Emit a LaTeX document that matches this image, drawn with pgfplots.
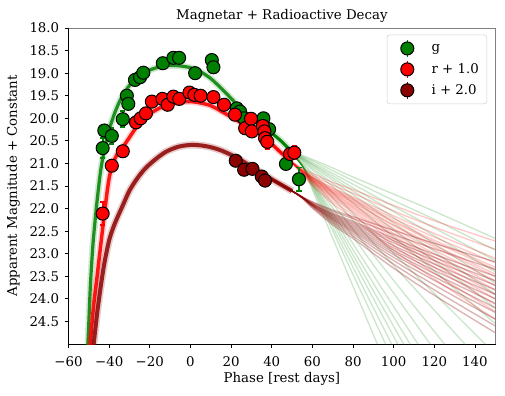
\documentclass[border=0pt]{standalone}
\usepackage{fontspec}
\setmainfont{DejaVu Serif}
\usepackage{pgfplots}
\usepackage{pgfplotstable}
\pgfplotsset{compat=1.18}
\definecolor{gcol}{RGB}{0,128,0}
\definecolor{rcol}{RGB}{255,0,0}
\definecolor{dcol}{RGB}{139,0,0}
\pgfplotsset{errleg/.style={legend image code/.code={%
  \draw[#1, line width=1.2pt] (0pt,-6.5pt) -- (0pt,6.5pt);
  \draw[##1] plot coordinates {(0pt,0pt)};
  \path (-11pt,0pt) (16pt,0pt);}}}

% ---------- observed photometry ----------
\pgfplotstableread{
x y e
-43.2 20.66 0.22
-42.4 20.27 0.12
-38.7 20.39 0.18
-33.3 20.02 0.18
-31.3 19.50 0.10
-30.6 19.68 0.12
-27.3 19.15 0.08
-24.8 19.09 0.08
-23.2 18.99 0.06
-13.6 18.78 0.06
-8.4 18.66 0.05
-5.6 18.66 0.05
2.3 19.00 0.06
10.5 18.71 0.06
11.3 18.87 0.06
22.8 19.78 0.07
24.4 19.85 0.07
26.4 20.00 0.08
35.9 20.00 0.10
38.7 20.24 0.10
47.0 21.01 0.12
53.4 21.35 0.26
}\gdata
\pgfplotstableread{
x y e
-43.2 22.11 0.25
-38.7 21.05 0.08
-33.3 20.73 0.06
-26.8 20.09 0.06
-24.5 20.00 0.05
-21.9 19.89 0.05
-19.0 19.63 0.05
-13.8 19.57 0.05
-11.2 19.70 0.05
-8.4 19.52 0.05
-5.5 19.57 0.05
-0.5 19.43 0.05
1.9 19.48 0.05
5.0 19.50 0.05
11.3 19.53 0.05
16.5 19.70 0.05
21.9 19.92 0.05
26.9 20.22 0.10
29.8 20.01 0.06
30.2 20.29 0.06
35.6 20.17 0.08
36.4 20.29 0.08
36.7 20.44 0.10
37.8 20.52 0.16
49.0 20.79 0.12
51.1 20.76 0.14
}\rdata
\pgfplotstableread{
x y e
22.3 20.94 0.05
26.4 21.14 0.05
30.5 21.12 0.05
35.1 21.29 0.06
36.7 21.38 0.06
}\ddata

% ---------- model curves: common early part ----------
\pgfplotstableread{
x y
-51 25.5
-50.5 25.0
-50 24.5
-49.5 23.95
-49 23.5
-48 22.8
-47 22.3
-46 21.85
-45 21.45
-44 21.1
-42 20.62
-40 20.25
-37 19.85
-34 19.55
-30 19.27
-25 19.05
-20 18.93
-15 18.86
-10 18.83
-5 18.84
0 18.88
5 18.97
10 19.12
15 19.33
20 19.56
25 19.80
30 20.02
35 20.18
40 20.33
45 20.52
50 20.75
}\gcore
\pgfplotstableread{
x y
-50 25.55
-49.3 25.0
-48.5 24.55
-47.5 24.08
-46 23.52
-45 23.13
-44 22.75
-43 22.36
-42 21.99
-41 21.62
-40 21.32
-39 21.12
-38 20.98
-36 20.79
-33 20.62
-30 20.42
-27 20.22
-25 20.10
-20 19.90
-15 19.77
-10 19.69
-5 19.64
0 19.63
5 19.66
10 19.72
15 19.84
20 19.97
25 20.10
30 20.23
35 20.38
40 20.57
45 20.78
50 20.98
}\rcore
\pgfplotstableread{
x y
-48.5 25.4
-48 25.15
-47 24.75
-46 24.35
-45 24.0
-44 23.68
-43 23.38
-42 23.12
-40 22.70
-38 22.42
-36 22.20
-33 21.90
-30 21.60
-26 21.32
-22 21.10
-17 20.90
-12 20.74
-6 20.63
0 20.59
5 20.60
10 20.64
15 20.71
20 20.81
25 20.93
30 21.07
35 21.21
40 21.35
45 21.48
50 21.61
}\dcore

% ---------- model curves: late-time spread ----------
\pgfplotstableread{
x a b c d e f g h i j k l m n o p q r s
40 20.33 20.33 20.33 20.33 20.33 20.33 20.33 20.33 20.33 20.33 20.33 20.33 20.33 20.33 20.33 20.33 20.33 20.33 20.33
45 20.52 20.52 20.52 20.52 20.52 20.52 20.52 20.52 20.52 20.52 20.52 20.52 20.52 20.52 20.52 20.52 20.52 20.52 20.52
50 20.72 20.73 20.74 20.74 20.74 20.74 20.75 20.75 20.76 20.76 20.76 20.78 20.78 20.78 20.78 20.78 20.78 20.78 20.78
55 20.82 20.84 20.86 20.87 20.89 20.90 20.92 20.94 21.04 21.01 20.98 21.05 21.05 21.05 21.05 21.05 21.05 21.05 21.05
60 20.91 20.94 20.98 21.01 21.03 21.06 21.10 21.14 21.33 21.26 21.21 21.58 21.53 21.50 21.47 21.45 21.42 21.40 21.36
70 21.10 21.16 21.22 21.27 21.32 21.37 21.44 21.51 21.89 21.76 21.65 22.65 22.49 22.40 22.31 22.24 22.17 22.09 21.99
80 21.30 21.38 21.46 21.54 21.61 21.69 21.78 21.88 22.46 22.26 22.10 23.72 23.46 23.30 23.15 23.03 22.91 22.78 22.62
100 21.68 21.82 21.95 22.07 22.20 22.32 22.47 22.63 23.59 23.26 22.99 25.86 25.38 25.09 24.83 24.61 24.40 24.17 23.87
120 22.06 22.24 22.43 22.60 22.78 22.95 23.16 23.38 24.72 24.25 23.88 28.00 27.30 26.89 26.51 26.19 25.89 25.56 25.13
150 22.66 22.92 23.15 23.40 23.65 23.90 24.20 24.55 26.40 25.75 25.22 31.20 30.20 29.58 29.03 28.56 28.13 27.64 27.01
}\glate
\pgfplotstableread{
x a b c d e f g h i j k l m n o p
40 20.57 20.57 20.57 20.57 20.57 20.57 20.57 20.57 20.57 20.57 20.57 20.57 20.57 20.57 20.57 20.57
45 20.78 20.78 20.78 20.78 20.78 20.78 20.78 20.78 20.78 20.78 20.78 20.78 20.78 20.78 20.78 20.78
50 20.96 20.97 20.98 20.98 20.98 20.98 20.98 20.98 20.98 20.98 20.98 20.98 20.98 20.99 20.99 21.00
55 21.11 21.13 21.15 21.15 21.16 21.16 21.17 21.17 21.18 21.18 21.19 21.19 21.20 21.21 21.22 21.24
60 21.22 21.26 21.30 21.30 21.32 21.32 21.34 21.34 21.36 21.37 21.39 21.39 21.41 21.43 21.46 21.49
70 21.42 21.48 21.54 21.56 21.59 21.60 21.63 21.64 21.66 21.68 21.71 21.73 21.76 21.79 21.84 21.89
80 21.58 21.66 21.74 21.77 21.80 21.82 21.85 21.87 21.91 21.94 21.97 22.00 22.04 22.08 22.14 22.21
100 21.93 22.05 22.16 22.22 22.27 22.30 22.36 22.38 22.44 22.49 22.55 22.60 22.66 22.72 22.82 22.92
120 22.27 22.41 22.55 22.63 22.70 22.74 22.81 22.85 22.92 23.00 23.07 23.14 23.22 23.30 23.43 23.56
150 22.72 22.90 23.10 23.20 23.30 23.35 23.45 23.50 23.60 23.70 23.80 23.90 24.00 24.12 24.28 24.45
}\rlate
\pgfplotstableread{
x a b c d e f g h i j k l m n
40 21.35 21.35 21.35 21.35 21.35 21.35 21.35 21.35 21.35 21.35 21.35 21.35 21.35 21.35
45 21.48 21.48 21.48 21.48 21.48 21.48 21.48 21.48 21.48 21.48 21.48 21.48 21.48 21.48
50 21.61 21.61 21.61 21.61 21.61 21.61 21.61 21.61 21.61 21.61 21.61 21.61 21.61 21.61
55 21.74 21.74 21.75 21.75 21.75 21.75 21.75 21.75 21.75 21.75 21.76 21.76 21.76 21.77
60 21.85 21.86 21.88 21.89 21.90 21.90 21.91 21.92 21.93 21.93 21.94 21.95 21.97 21.99
70 22.03 22.06 22.10 22.12 22.14 22.16 22.18 22.20 22.22 22.24 22.26 22.29 22.32 22.36
80 22.18 22.22 22.28 22.31 22.34 22.37 22.40 22.43 22.46 22.49 22.52 22.56 22.61 22.66
100 22.48 22.57 22.66 22.71 22.76 22.82 22.87 22.92 22.97 23.02 23.08 23.15 23.23 23.32
120 22.77 22.89 23.01 23.08 23.15 23.23 23.30 23.37 23.44 23.51 23.59 23.69 23.80 23.92
150 23.18 23.35 23.50 23.60 23.70 23.80 23.90 24.00 24.10 24.20 24.30 24.45 24.60 24.75
}\dlate

\begin{document}
\begin{tikzpicture}
\begin{axis}[
  scale only axis, width=320pt, height=237pt,
  xmin=-60, xmax=150, ymin=18, ymax=25, y dir=reverse,
  xtick={-60,-40,-20,0,20,40,60,80,100,120,140},
  xticklabels={−60,−40,−20,0,20,40,60,80,100,120,140},
  ytick={18,18.5,19,19.5,20,20.5,21,21.5,22,22.5,23,23.5,24,24.5},
  yticklabels={18.0,18.5,19.0,19.5,20.0,20.5,21.0,21.5,22.0,22.5,23.0,23.5,24.0,24.5},
  tick align=outside, tick pos=left, major tick length=3pt,
  tick style={black, line width=0.6pt},
  axis line style={line width=0.6pt},
  xticklabel style={anchor=base, yshift=-13.5pt, inner sep=0pt},
  yticklabel style={anchor=east, xshift=-3.8pt, inner sep=0pt},
  title={Magnetar + Radioactive Decay},
  title style={at={(axis description cs:0.5,1)}, anchor=base, yshift=0.2pt, inner sep=0pt},
  xlabel={Phase [rest days]},
  xlabel style={at={(axis description cs:0.5,0)}, anchor=base, yshift=-29pt, inner sep=0pt},
  ylabel={Apparent Magnitude + Constant},
  ylabel style={at={(axis description cs:-0.1213,0.5)}, anchor=base, inner sep=0pt},
  legend cell align=left,
  legend style={at={(axis description cs:0.9808,0.9788)}, anchor=north east,
    draw=black!18, rounded corners=2pt, fill=white, inner xsep=4pt, inner ysep=3pt,
    row sep=1.5pt, /tikz/every even column/.append style={column sep=4pt}},
  after end axis/.code={
    \draw[gray, line width=0.7pt] (axis description cs:0,1) -- (axis description cs:1,1) -- (axis description cs:1,0);
  },
]
% late-time model spread
\pgfplotsinvokeforeach{a,b,c,d,e,f,g,h,i,j,k,l,m,n,o,p,q,r,s}{
  \addplot[gcol, opacity=0.2, line width=1pt, smooth, forget plot] table[x=x,y=#1]{\glate};
}
\pgfplotsinvokeforeach{a,b,c,d,e,f,g,h,i,j,k,l,m,n,o,p}{
  \addplot[rcol, opacity=0.22, line width=1pt, smooth, forget plot] table[x=x,y=#1]{\rlate};
}
\pgfplotsinvokeforeach{a,b,c,d,e,f,g,h,i,j,k,l,m,n}{
  \addplot[dcol, opacity=0.3, line width=1pt, smooth, forget plot] table[x=x,y=#1]{\dlate};
}
% early-time model bands
\addplot[gcol, opacity=0.18, line width=5pt, smooth, forget plot] table[x=x,y=y]{\gcore};
\addplot[gcol, opacity=0.85, line width=2.4pt, smooth, forget plot] table[x=x,y=y]{\gcore};
\addplot[rcol, opacity=0.18, line width=5pt, smooth, forget plot] table[x=x,y=y]{\rcore};
\addplot[rcol, opacity=0.9, line width=2.6pt, smooth, forget plot] table[x=x,y=y]{\rcore};
\addplot[dcol, opacity=0.2, line width=5.5pt, smooth, forget plot] table[x=x,y=y]{\dcore};
\addplot[dcol, opacity=0.85, line width=3pt, smooth, forget plot] table[x=x,y=y]{\dcore};

% data
\addplot[only marks, mark=*, mark size=4.9pt, mark options={fill=gcol, draw=black, line width=0.75pt},
  errleg=gcol,
  error bars/.cd, y dir=both, y explicit,
  error bar style={gcol, line width=1.4pt},
  error mark options={gcol, rotate=90, mark size=1.9pt, line width=1.4pt}]
  table[x=x, y=y, y error=e]{\gdata};
\addlegendentry{g}
\addplot[only marks, mark=*, mark size=4.9pt, mark options={fill=rcol, draw=black, line width=0.75pt},
  errleg=rcol,
  error bars/.cd, y dir=both, y explicit,
  error bar style={rcol, line width=1.4pt},
  error mark options={rcol, rotate=90, mark size=1.9pt, line width=1.4pt}]
  table[x=x, y=y, y error=e]{\rdata};
\addlegendentry{r + 1.0}
\addplot[only marks, mark=*, mark size=4.9pt, mark options={fill=dcol, draw=black, line width=0.75pt},
  errleg=dcol,
  error bars/.cd, y dir=both, y explicit,
  error bar style={dcol, line width=1.4pt},
  error mark options={dcol, rotate=90, mark size=1.9pt, line width=1.4pt}]
  table[x=x, y=y, y error=e]{\ddata};
\addlegendentry{i + 2.0}
\end{axis}
\pgfresetboundingbox
\path[use as bounding box] (-51.4pt,-38.8pt) rectangle (327.3pt,258pt);
\end{tikzpicture}
\end{document}
